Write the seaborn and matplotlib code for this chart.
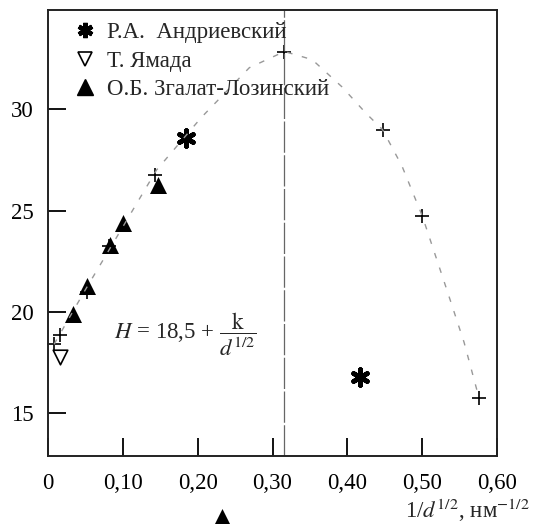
import numpy as np
import pandas as pd
import matplotlib
matplotlib.use('Agg')
import matplotlib.pyplot as plt
from matplotlib.lines import Line2D
import seaborn as sns

sns.set_style('ticks')
plt.rcParams['font.family'] = ['Liberation Serif', 'DejaVu Serif']
plt.rcParams['mathtext.fontset'] = 'stix'
plt.rcParams['font.size'] = 16.5

# кривая (пунктир)
curve_x = [0.008, 0.05, 0.1, 0.145, 0.205, 0.269, 0.316, 0.353, 0.393, 0.425, 0.447, 0.473, 0.5, 0.532, 0.556, 0.576]
curve_y = [18.4, 21.1, 24.2, 27.0, 29.6, 32.05, 32.85, 32.45, 31.1, 29.8, 29.0, 27.2, 24.75, 21.2, 18.5, 15.75]

# точки "+"
plus_x = [0.008, 0.016, 0.052, 0.081, 0.143, 0.316, 0.447, 0.5, 0.576]
plus_y = [18.42, 18.86, 21.0, 23.26, 26.77, 32.84, 29.0, 24.75, 15.75]

# Р.А. Андриевский
andr_x = [0.184, 0.417]
andr_y = [28.6, 16.8]

# Т. Ямада
yam_x = [0.016]
yam_y = [17.78]

# О.Б. Згалат-Лозинский
zgal_x = [0.033, 0.052, 0.083, 0.100, 0.147, 0.233]
zgal_y = [19.9, 21.3, 23.3, 24.4, 26.27, 9.9]

vline_x = 0.316

xticks = [0, 0.1, 0.2, 0.3, 0.4, 0.5, 0.6]
xtick_labels = ['0', '0,10', '0,20', '0,30', '0,40', '0,50', '0,60']
yticks = [15, 20, 25, 30]

fig = plt.figure(figsize=(5.35, 5.24), dpi=100)
ax = fig.add_axes([0.0897, 0.130, 0.8393, 0.851])

sns.lineplot(x=curve_x, y=curve_y, ax=ax, color='#999999', lw=1.0,
             linestyle=(0, (4, 7)), sort=False)
ax.axvline(vline_x, color='#666666', lw=0.9, dashes=(25, 2))

sns.scatterplot(x=plus_x, y=plus_y, ax=ax, marker='+', s=100, color='black', linewidth=1.2)
sns.scatterplot(x=andr_x, y=andr_y, ax=ax, marker=(6, 2, 0), s=130, color='black', linewidth=3.4)
sns.scatterplot(x=yam_x, y=yam_y, ax=ax, marker='v', s=110, facecolor='white',
                edgecolor='black', linewidth=1.2)
sns.scatterplot(x=zgal_x, y=zgal_y, ax=ax, marker='^', s=150, color='black', linewidth=0)
for coll in ax.collections:
    coll.set_clip_on(False)

ax.set_xlim(0, 0.6)
ax.set_ylim(12.9, 34.9)
ax.set_xticks(xticks)
ax.set_xticklabels(xtick_labels)
ax.set_yticks(yticks)
ax.tick_params(direction='in', length=13, width=1.3, colors='black', labelsize=16.5, pad=10)
ax.tick_params(axis='x', pad=12)
for s in ax.spines.values():
    s.set_linewidth(1.4)
    s.set_color('#222222')

ax.text(0.088, 18.9, r'$H$ = 18,5 + $\dfrac{\mathrm{k}}{d^{1/2}}$', fontsize=16.5,
        ha='left', va='center')

fig.text(0.99, 0.0, r'1/$d^{1/2}$, нм$^{-1/2}$', ha='right', va='bottom', fontsize=16.5)

handles = [
    Line2D([], [], ls='none', marker=(6, 2, 0), ms=11, mew=3.2, color='black'),
    Line2D([], [], ls='none', marker='v', ms=10, mfc='white', mec='black', mew=1.2),
    Line2D([], [], ls='none', marker='^', ms=12, color='black'),
]
labels = ['Р.А.  Андриевский', 'Т. Ямада', 'О.Б. Згалат-Лозинский']
ax.legend(handles, labels, loc='upper left', frameon=False, fontsize=16.5,
          handlelength=1.0, handletextpad=0.45, labelspacing=0.33, borderaxespad=0.0,
          bbox_to_anchor=(0.037, 0.993))

fig.savefig('out.png', dpi=100)
